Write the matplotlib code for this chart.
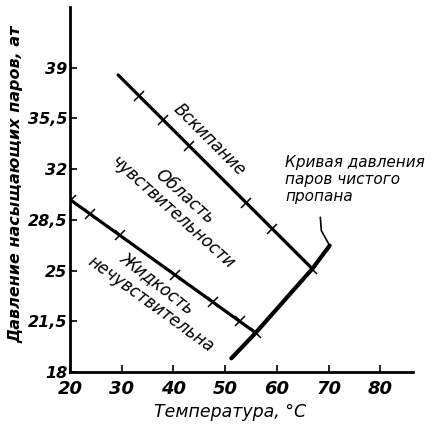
import matplotlib.pyplot as plt

# Boiling line ("Вскипание"): start and end of the drawn line
boil_line_t = [29.33, 66.85]
boil_line_p = [38.50, 25.12]
# crosses along it
boil_t = [33.4, 38.0, 43.0, 54.1, 59.1, 66.85]
boil_p = [37.06, 35.41, 33.61, 29.66, 27.87, 25.12]

# Lower boundary (liquid insensitive)
liquid_line_t = [20.14, 55.91]
liquid_line_p = [29.87, 20.70]
liquid_t = [20.14, 23.9, 29.7, 40.3, 47.7, 52.8, 55.91]
liquid_p = [29.87, 28.92, 27.43, 24.71, 22.81, 21.49, 20.70]

# Vapour pressure curve of pure propane
propane_t = [51.2, 55.91, 66.85, 70.2]
propane_p = [18.94, 20.70, 25.12, 26.72]

# leader from the curve to its caption
leader_t = [70.2, 68.6, 68.4]
leader_p = [26.72, 27.75, 28.66]

x_ticks = [20, 30, 40, 50, 60, 70, 80]
y_ticks = [18, 21.5, 25, 28.5, 32, 35.5, 39]
y_labels = ['18', '21,5', '25', '28,5', '32', '35,5', '39']

plt.rcParams['font.family'] = 'DejaVu Sans'
plt.rcParams['font.style'] = 'italic'

fig = plt.figure(figsize=(4.45, 4.29), dpi=100)
ax = fig.add_axes([0.157, 0.133, 0.771, 0.851])

ax.plot(boil_line_t, boil_line_p, color='black', lw=2.3, solid_capstyle='round')
ax.plot(boil_t, boil_p, ls='none', marker='x', ms=7, mew=1.1, color='black')
ax.plot(liquid_line_t, liquid_line_p, color='black', lw=2.3, solid_capstyle='round')
ax.plot(liquid_t, liquid_p, ls='none', marker='x', ms=7, mew=1.1, color='black')
ax.plot(propane_t, propane_p, color='black', lw=3.0, solid_capstyle='round')
ax.plot(leader_t, leader_p, color='black', lw=1.2)

ax.text(46.9, 34.0, 'Вскипание', rotation=-45, ha='center', va='center', fontsize=12)
ax.text(42.1, 30.1, 'Область', rotation=-42, ha='center', va='center', fontsize=12)
ax.text(39.8, 29.0, 'чувствительности', rotation=-42, ha='center', va='center', fontsize=12)
ax.text(36.9, 24.1, 'Жидкость', rotation=-38, ha='center', va='center', fontsize=12)
ax.text(35.6, 22.7, 'нечувствительна', rotation=-36, ha='center', va='center', fontsize=12)
ax.text(61.6, 33.0, 'Кривая давления\nпаров чистого\nпропана', ha='left', va='top',
        fontsize=11, linespacing=1.2)

ax.set_xlim(20, 86.3)
ax.set_ylim(18, 43.2)
ax.set_xticks(x_ticks)
ax.set_yticks(y_ticks)
ax.set_yticklabels(y_labels)
ax.tick_params(direction='in', length=5, width=1.2, pad=2)
ax.tick_params(axis='x', pad=6)
for lab in ax.get_yticklabels():
    lab.set_fontweight('bold')
    lab.set_fontsize(11.5)
for lab in ax.get_xticklabels():
    lab.set_fontweight('bold')
    lab.set_fontsize(13)

ax.spines['top'].set_visible(False)
ax.spines['right'].set_visible(False)
ax.spines['left'].set_linewidth(2)
ax.spines['bottom'].set_linewidth(2)

ax.set_xlabel('Температура, °C', fontsize=12.5)
ax.xaxis.set_label_coords(0.466, -0.085)
ax.set_ylabel('Давление насыщающих паров, ат', fontsize=11.5, fontweight='bold')
ax.yaxis.set_label_coords(-0.135, 0.515)

fig.savefig('out.png', dpi=100)
